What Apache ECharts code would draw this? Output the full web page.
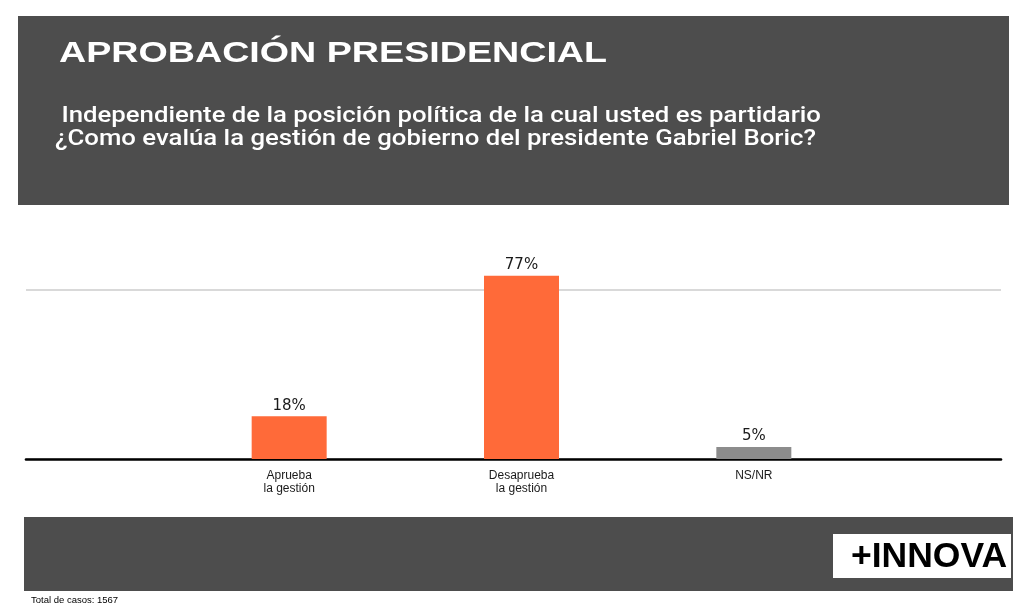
<!DOCTYPE html>
<html>
<head>
<meta charset="utf-8">
<script src="https://cdn.jsdelivr.net/npm/echarts@6/dist/echarts.min.js"></script>
<style>
html,body{margin:0;padding:0;background:#fff;}
#chart{width:1032px;height:612px;}
</style>
</head>
<body>
<div id="chart"></div>
<script>
const categories = ['Aprueba\nla gestión', 'Desaprueba\nla gestión', 'NS/NR'];
const values = [18, 77, 5];
const barColors = ['#FF6A39', '#FF6A39', '#8C8C8C'];
const titleText = 'APROBACIÓN PRESIDENCIAL';
const subtitleLines = [' Independiente de la posición política de la cual usted es partidario', '¿Como evalúa la gestión de gobierno del presidente Gabriel Boric?'];
const brandText = '+INNOVA';
const noteText = 'Total de casos: 1567';
const yMax = 71;

const chart = echarts.init(document.getElementById('chart'), null, {renderer: 'canvas'});
const dark = '#4D4D4D';

chart.setOption({
  backgroundColor: '#ffffff',
  animation: false,
  grid: [
    {left: 26, right: 31, top: 290, bottom: 153},
    {left: 173, right: 162, top: 290, bottom: 153}
  ],
  xAxis: [
    {gridIndex: 0, type: 'value', min: 0, max: 1,
     axisLine: {show: true, onZero: false, lineStyle: {color: '#000', width: 2.6}},
     axisTick: {show: false}, axisLabel: {show: false}, splitLine: {show: false}},
    {gridIndex: 1, type: 'category', data: categories,
     axisLine: {show: false}, axisTick: {show: false},
     axisLabel: {margin: 10, fontFamily: 'Liberation Sans', fontSize: 12, lineHeight: 13, color: '#1a1a1a'}}
  ],
  yAxis: [
    {gridIndex: 0, type: 'value', min: 0, max: yMax, interval: yMax,
     axisLine: {show: false}, axisTick: {show: false}, axisLabel: {show: false},
     splitLine: {show: true, lineStyle: {color: '#D9D9D9', width: 2}}},
    {gridIndex: 1, type: 'value', min: 0, max: yMax, interval: yMax, show: false}
  ],
  series: [{
    type: 'bar',
    xAxisIndex: 1, yAxisIndex: 1,
    barWidth: 75,
    clip: false,
    data: values.map((v, i) => ({value: v, itemStyle: {color: barColors[i]}})),
    label: {show: true, position: 'top', distance: 3, formatter: '{c}%',
      fontFamily: 'DejaVu Sans', fontSize: 15, color: '#1a1a1a'}
  }],
  graphic: [
    {type: 'rect', shape: {x: 18, y: 16, width: 991, height: 189}, style: {fill: dark}, z: 1},
    {type: 'text', x: 59, y: 54, scaleX: 1.255, z: 2,
     style: {text: titleText, fill: '#fff', font: 'bold 30px "Liberation Sans"', verticalAlign: 'middle', align: 'left'}},
    {type: 'text', x: 55, y: 116, scaleX: 1.17, z: 2,
     style: {text: subtitleLines[0], fill: '#fff', font: '500 22px Roboto', verticalAlign: 'middle', align: 'left'}},
    {type: 'text', x: 55, y: 139.5, scaleX: 1.17, z: 2,
     style: {text: subtitleLines[1], fill: '#fff', font: '500 22px Roboto', verticalAlign: 'middle', align: 'left'}},
    {type: 'rect', shape: {x: 24, y: 517, width: 989, height: 74}, style: {fill: dark}, z: 1},
    {type: 'rect', shape: {x: 833, y: 534, width: 178, height: 44}, style: {fill: '#fff'}, z: 2},
    {type: 'text', x: 851, y: 557.5, z: 3,
     style: {text: brandText, fill: '#000', font: 'bold 35.5px "Liberation Sans"', verticalAlign: 'middle', align: 'left'}},
    {type: 'text', x: 31, y: 600, z: 2,
     style: {text: noteText, fill: '#000', font: '9.5px "Liberation Sans"', verticalAlign: 'middle', align: 'left'}}
  ]
});
</script>
</body>
</html>
